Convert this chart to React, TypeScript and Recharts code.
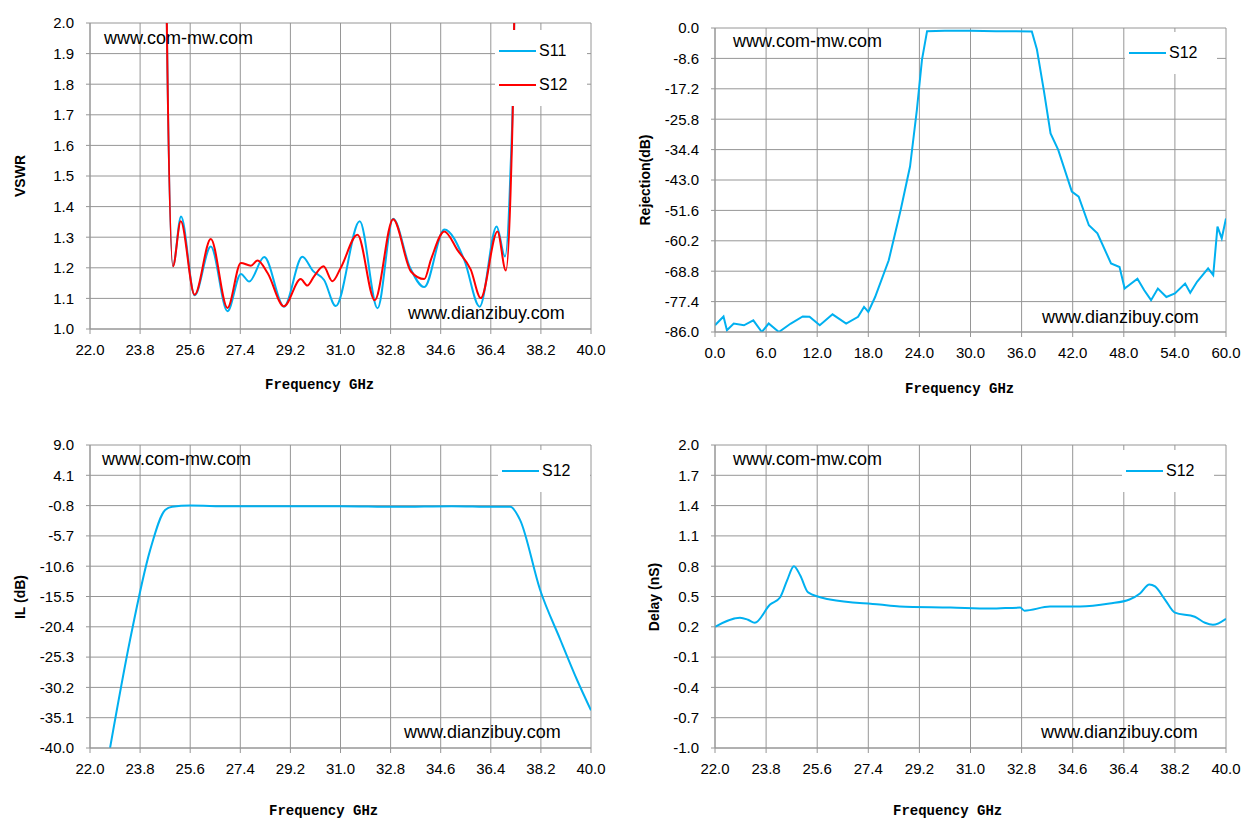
import React from 'react';
import { LineChart, Line, XAxis, YAxis, CartesianGrid } from 'recharts';

const vswrTicksX = [22.0, 23.8, 25.6, 27.4, 29.2, 31.0, 32.8, 34.6, 36.4, 38.2, 40.0];
const vswrTicksY = [1.0, 1.1, 1.2, 1.3, 1.4, 1.5, 1.6, 1.7, 1.8, 1.9, 2.0];
const rejTicksX = [0, 6, 12, 18, 24, 30, 36, 42, 48, 54, 60];
const rejTicksY = [0, -8.6, -17.2, -25.8, -34.4, -43.0, -51.6, -60.2, -68.8, -77.4, -86.0];
const ilTicksY = [9.0, 4.1, -0.8, -5.7, -10.6, -15.5, -20.4, -25.3, -30.2, -35.1, -40.0];
const delayTicksY = [2.0, 1.7, 1.4, 1.1, 0.8, 0.5, 0.2, -0.1, -0.4, -0.7, -1.0];

const s11Freq = [24.6, 24.76, 24.98, 25.27, 25.76, 26.34, 26.94, 27.42, 27.72, 28.26, 28.97, 29.63, 30.01, 30.41, 30.83, 31.69, 32.33, 32.89, 33.5, 34.01, 34.73, 35.45, 36.0, 36.61, 36.91, 37.1, 37.24, 37.4];
const s11Val = [4, 2.0, 1.205, 1.368, 1.11, 1.27, 1.058, 1.18, 1.155, 1.235, 1.073, 1.236, 1.19, 1.16, 1.075, 1.352, 1.068, 1.36, 1.2, 1.137, 1.325, 1.225, 1.073, 1.335, 1.237, 1.5, 2.0, 4];
const s12Freq = [24.6, 24.76, 24.98, 25.26, 25.76, 26.34, 26.94, 27.42, 27.78, 28.02, 28.38, 28.97, 29.57, 29.81, 30.05, 30.39, 30.71, 31.01, 31.61, 32.23, 32.89, 33.53, 34.01, 34.25, 34.73, 35.21, 35.68, 36.04, 36.64, 36.94, 37.12, 37.24, 37.4];
const s12Val = [4, 2.0, 1.205, 1.352, 1.112, 1.294, 1.069, 1.216, 1.207, 1.224, 1.183, 1.074, 1.163, 1.142, 1.172, 1.205, 1.156, 1.2, 1.308, 1.094, 1.359, 1.188, 1.163, 1.227, 1.319, 1.257, 1.194, 1.101, 1.319, 1.191, 1.477, 2.0, 4];

const rejFreq = [0, 1.0, 1.4, 2.2, 3.4, 4.5, 5.5, 6.3, 7.5, 8.9, 10.3, 11.1, 12.3, 13.8, 15.4, 16.8, 17.5, 18.0, 18.8, 20.4, 21.8, 22.9, 23.7, 24.3, 24.9, 27, 30, 33, 35, 37.2, 37.8, 38.6, 39.4, 40.3, 41.9, 42.7, 43.9, 44.9, 46.5, 47.5, 48.1, 49.6, 50.4, 51.2, 52.0, 53.0, 54.0, 55.2, 55.8, 56.6, 57.9, 58.5, 59.0, 59.5, 60];
const rejVal = [-84.1, -81.6, -85.5, -83.6, -84.1, -82.7, -86, -83.6, -86, -83.6, -81.6, -81.7, -84.1, -81, -83.6, -81.7, -78.9, -80.3, -76.1, -65.7, -51.5, -39.2, -23.2, -9.0, -0.9, -0.8, -0.8, -0.9, -0.9, -1.0, -6.1, -17.5, -29.8, -34.5, -46.3, -47.7, -55.8, -58.1, -66.6, -67.6, -73.7, -70.9, -74.2, -77, -73.7, -76.1, -75.1, -72.3, -74.9, -71.8, -68, -69.9, -56.2, -59.5, -53.9];

const ilFreq = [22.72, 23.44, 24.16, 24.7, 24.95, 25.6, 27, 29, 31, 33, 35, 36.5, 37.1, 37.45, 38.17, 38.9, 39.5, 40];
const ilVal = [-40, -22.5, -8, -1.5, -1.0, -0.8, -0.9, -0.9, -0.9, -1.0, -0.9, -1.0, -1.0, -3.1, -14.4, -22.5, -29, -33.9];

const delayFreq = [22.0, 22.88, 23.16, 23.4, 23.94, 24.29, 24.54, 24.78, 25.0, 25.28, 26.05, 27.8, 28.5, 30.3, 31.7, 32.75, 32.9, 33.8, 34.86, 35.9, 36.6, 36.97, 37.3, 37.5, 37.85, 38.2, 38.9, 39.26, 39.54, 40.0];
const delayVal = [0.2, 0.29, 0.27, 0.24, 0.42, 0.49, 0.66, 0.8, 0.71, 0.54, 0.47, 0.42, 0.4, 0.39, 0.38, 0.39, 0.36, 0.4, 0.4, 0.43, 0.47, 0.53, 0.62, 0.6, 0.47, 0.34, 0.3, 0.24, 0.22, 0.28];

const zip = (f: number[], v: number[]) => f.map((x, i) => ({ f: x, v: v[i] }));

const BLUE = '#00B0F0';
const RED = '#FF0000';
const tickStyle = { fontFamily: 'Liberation Sans, Arial, sans-serif', fontSize: 15, fill: '#000' };

const abs = (l: number, t: number, extra: React.CSSProperties = {}): React.CSSProperties => ({ position: 'absolute', left: l, top: t, ...extra });
const txt: React.CSSProperties = { fontFamily: 'Liberation Sans, Arial, sans-serif', fontSize: 18, color: '#000', whiteSpace: 'nowrap' };
const xlab: React.CSSProperties = { fontFamily: 'Liberation Mono, monospace', fontWeight: 'bold', fontSize: 14, whiteSpace: 'nowrap' };
const ylab: React.CSSProperties = { fontFamily: 'Liberation Sans, Arial, sans-serif', fontWeight: 'bold', fontSize: 14, whiteSpace: 'nowrap', transform: 'translate(-50%,-50%) rotate(-90deg)' };

function Panel(props: any) {
  const { left, top, width, height, margin, yWidth, xTicks, xDomain, yTicks, yDomain, yFmt, xFmt, lines } = props;
  return (
    <div style={abs(left, top)}>
      <LineChart width={width} height={height} margin={margin}>
        <CartesianGrid stroke="#969696" strokeWidth={1} />
        <XAxis type="number" dataKey="f" domain={xDomain} ticks={xTicks} interval={0} allowDataOverflow
          tick={tickStyle} tickFormatter={xFmt} stroke="#969696" tickSize={5} tickMargin={10} height={50} />
        <YAxis type="number" dataKey="v" domain={yDomain} ticks={yTicks} interval={0} allowDataOverflow
          tick={tickStyle} tickFormatter={yFmt} stroke="#969696" tickSize={4} tickMargin={12} width={yWidth} />
        {lines.map((l: any, i: number) => (
          <Line key={i} data={l.data} dataKey="v" type={l.type || 'monotone'} stroke={l.color} strokeWidth={2}
            dot={false} isAnimationActive={false} />
        ))}
      </LineChart>
    </div>
  );
}

function LegendBox({ left, top, items }: any) {
  return (
    <div style={abs(left, top, { background: '#fff', width: 92, padding: '4px 0' })}>
      {items.map((it: any, i: number) => (
        <div key={i} style={{ display: 'flex', alignItems: 'center', height: 34 }}>
          <div style={{ width: 37, height: 2, background: it.color, marginLeft: 4 }} />
          <span style={{ ...txt, fontSize: 16, marginLeft: 3 }}>{it.name}</span>
        </div>
      ))}
    </div>
  );
}

export default function App() {
  const f1 = (v: number) => v.toFixed(1);
  return (
    <div style={{ position: 'absolute', left: 0, top: 0, width: 1259, height: 837, background: '#fff' }}>
      <Panel left={0} top={0} width={620} height={379} margin={{ top: 23, right: 29, left: 0, bottom: 0 }} yWidth={90}
        xTicks={vswrTicksX} xDomain={[22, 40]} yTicks={vswrTicksY} yDomain={[1, 2]} xFmt={f1} yFmt={f1}
        lines={[{ data: zip(s11Freq, s11Val), color: BLUE }, { data: zip(s12Freq, s12Val), color: RED }]} />
      <Panel left={630} top={0} width={629} height={382} margin={{ top: 28, right: 33, left: 0, bottom: 0 }} yWidth={85}
        xTicks={rejTicksX} xDomain={[0, 60]} yTicks={rejTicksY} yDomain={[-86, 0]} xFmt={f1} yFmt={f1}
        lines={[{ data: zip(rejFreq, rejVal), color: BLUE, type: 'linear' }]} />
      <Panel left={0} top={420} width={620} height={378} margin={{ top: 25, right: 29, left: 0, bottom: 0 }} yWidth={90}
        xTicks={vswrTicksX} xDomain={[22, 40]} yTicks={ilTicksY} yDomain={[-40, 9]} xFmt={f1} yFmt={f1}
        lines={[{ data: zip(ilFreq, ilVal), color: BLUE }]} />
      <Panel left={630} top={420} width={629} height={378} margin={{ top: 25, right: 33, left: 0, bottom: 0 }} yWidth={85}
        xTicks={vswrTicksX} xDomain={[22, 40]} yTicks={delayTicksY} yDomain={[-1, 2]} xFmt={f1} yFmt={f1}
        lines={[{ data: zip(delayFreq, delayVal), color: BLUE }]} />

      <LegendBox left={495} top={30} items={[{ name: 'S11', color: BLUE }, { name: 'S12', color: RED }]} />
      <LegendBox left={1125} top={32} items={[{ name: 'S12', color: BLUE }]} />
      <LegendBox left={498} top={450} items={[{ name: 'S12', color: BLUE }]} />
      <LegendBox left={1122} top={450} items={[{ name: 'S12', color: BLUE }]} />

      <div style={abs(104, 28, txt)}>www.com-mw.com</div>
      <div style={abs(733, 31, txt)}>www.com-mw.com</div>
      <div style={abs(102, 449, txt)}>www.com-mw.com</div>
      <div style={abs(733, 449, txt)}>www.com-mw.com</div>
      <div style={abs(408, 303, txt)}>www.dianzibuy.com</div>
      <div style={abs(1042, 307, txt)}>www.dianzibuy.com</div>
      <div style={abs(404, 722, txt)}>www.dianzibuy.com</div>
      <div style={abs(1041, 722, txt)}>www.dianzibuy.com</div>

      <div style={abs(265, 377, xlab)}>Frequency GHz</div>
      <div style={abs(905, 381, xlab)}>Frequency GHz</div>
      <div style={abs(269, 803, xlab)}>Frequency GHz</div>
      <div style={abs(893, 803, xlab)}>Frequency GHz</div>

      <div style={abs(20, 176, ylab)}>VSWR</div>
      <div style={abs(645, 180, ylab)}>Rejection(dB)</div>
      <div style={abs(20, 597, ylab)}>IL (dB)</div>
      <div style={abs(654, 597, ylab)}>Delay (nS)</div>
    </div>
  );
}
